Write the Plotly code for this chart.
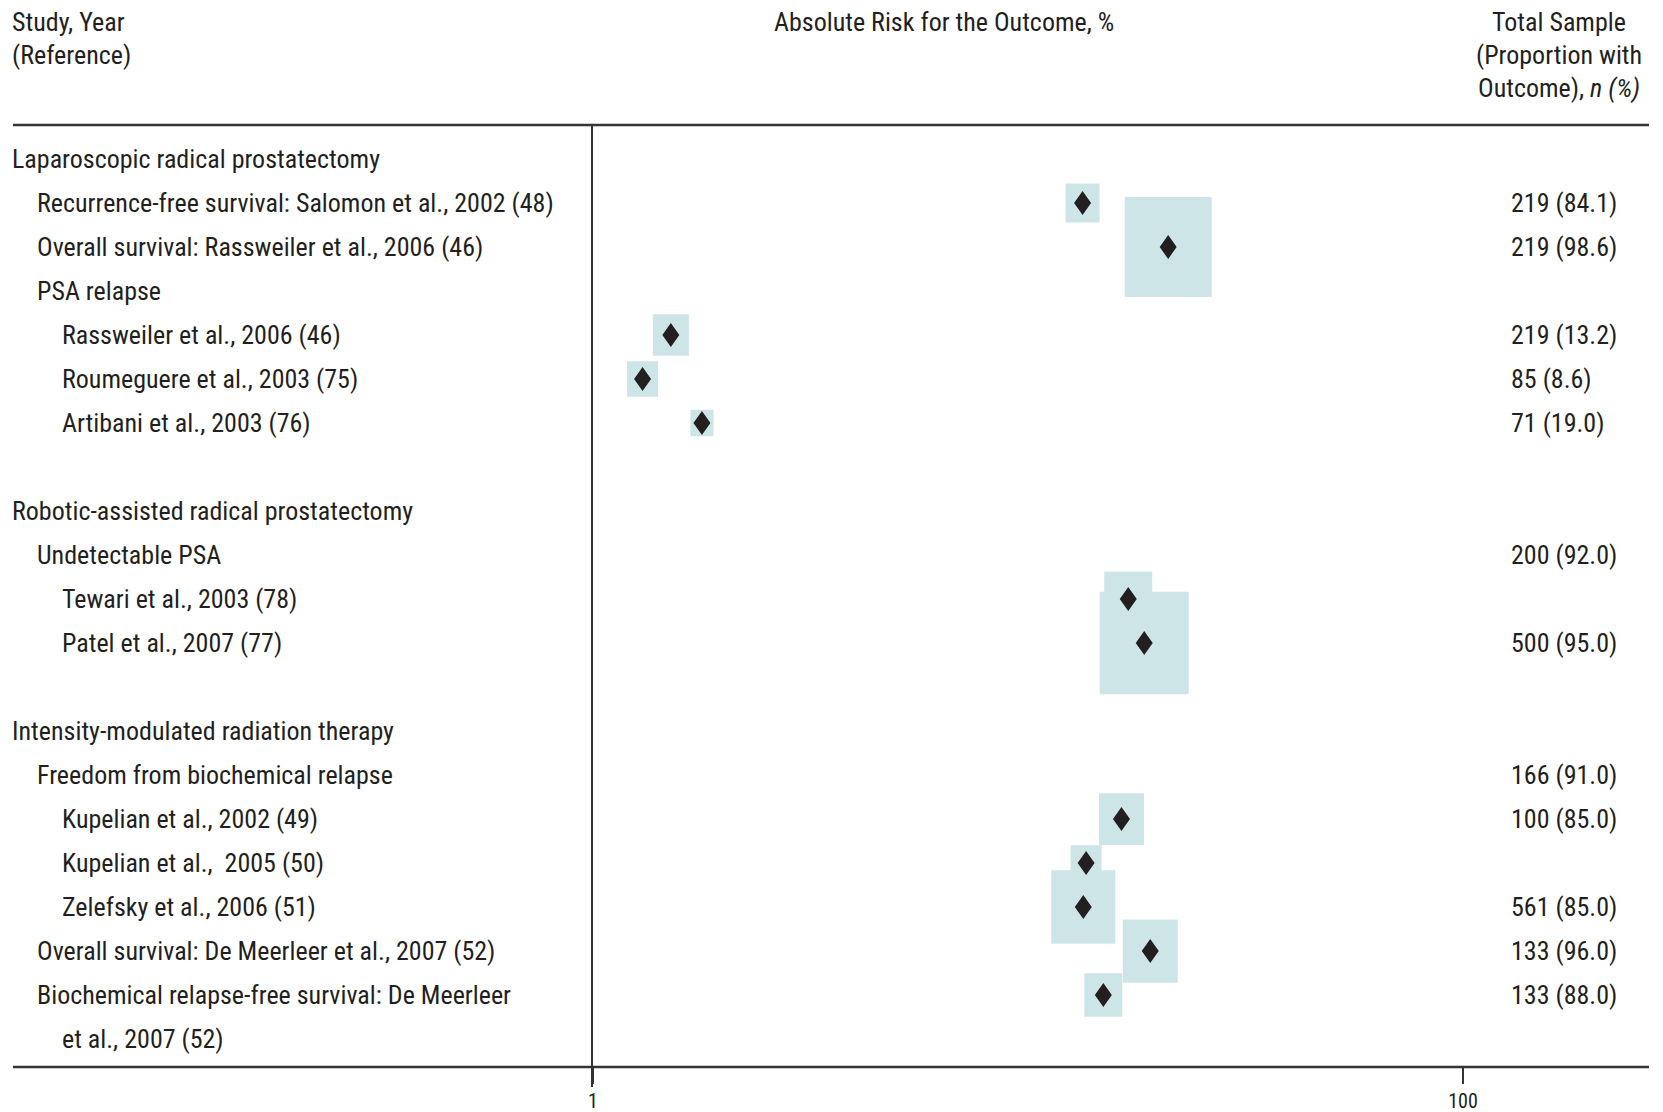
import math
import plotly.graph_objects as go

# ---- table rows (top to bottom) ----
row_labels = [
    "Laparoscopic radical prostatectomy",
    "Recurrence-free survival: Salomon et al., 2002 (48)",
    "Overall survival: Rassweiler et al., 2006 (46)",
    "PSA relapse",
    "Rassweiler et al., 2006 (46)",
    "Roumeguere et al., 2003 (75)",
    "Artibani et al., 2003 (76)",
    "",
    "Robotic-assisted radical prostatectomy",
    "Undetectable PSA",
    "Tewari et al., 2003 (78)",
    "Patel et al., 2007 (77)",
    "",
    "Intensity-modulated radiation therapy",
    "Freedom from biochemical relapse",
    "Kupelian et al., 2002 (49)",
    "Kupelian et al.,  2005 (50)",
    "Zelefsky et al., 2006 (51)",
    "Overall survival: De Meerleer et al., 2007 (52)",
    "Biochemical relapse-free survival: De Meerleer",
    "et al., 2007 (52)",
]
row_level = [0, 1, 1, 1, 2, 2, 2, 0, 0, 1, 2, 2, 0, 0, 1, 2, 2, 2, 1, 1, 2]
sample_text = [
    "", "219 (84.1)", "219 (98.6)", "", "219 (13.2)", "85 (8.6)", "71 (19.0)",
    "", "", "200 (92.0)", "", "500 (95.0)",
    "", "", "166 (91.0)", "100 (85.0)", "", "561 (85.0)", "133 (96.0)", "133 (88.0)", "",
]

# ---- study estimates ----
study_rows = [1, 2, 4, 5, 6, 10, 11, 15, 16, 17, 18, 19]
abs_risk = [13.35, 21.0, 1.51, 1.30, 1.78, 17.0, 18.5, 16.4, 13.6, 13.4, 19.1, 14.9]
box_weight = [34, 87, 36, 31, 23, 48, 89, 45, 31, 64, 55, 38]

x_ticks = [1, 100]
x_tick_text = ["1", "100"]

# ---- geometry ----
W, H = 1663, 1112
ML, MR, MT, MB = 13, 14, 125, 25
plot_w = W - ML - MR
plot_h = H - MT - MB
x_left_px = 593          # where x = 1 sits
decade_px = 435.0
row_px = 44.0
row0_px = 159.0
x_dom0 = (x_left_px - ML) / plot_w
x_max = (W - MR - x_left_px) / decade_px
y_top = (MT - row0_px) / row_px
y_bot = (H - MB - row0_px) / row_px

def paper_y(px):
    return (H - MB - px) / plot_h

def paper_x(px):
    return (px - ML) / plot_w

ink = "#231f20"
box_fill = "#cde5e7"
font_family = "Liberation Sans Narrow, Arial Narrow, Roboto Condensed, DejaVu Sans Condensed, sans-serif"
fs = 26

fig = go.Figure()

# weight boxes
for r, v, w in zip(study_rows, abs_risk, box_weight):
    hw = w / 2 / decade_px
    hh = w * 1.15 / 2 / row_px
    lo, hi = v * 10 ** (-hw), v * 10 ** hw
    fig.add_trace(go.Scatter(
        x=[lo, hi, hi, lo, lo], y=[r - hh, r - hh, r + hh, r + hh, r - hh],
        mode="lines", fill="toself", fillcolor=box_fill,
        line=dict(width=0, color=box_fill), hoverinfo="skip", showlegend=False,
    ))

# point estimates as diamonds
dx = 8.5 / decade_px
dy = 12 / row_px
dxs, dys = [], []
for r, v in zip(study_rows, abs_risk):
    dxs += [v * 10 ** (-dx), v, v * 10 ** dx, v, v * 10 ** (-dx), None]
    dys += [r, r - dy, r, r + dy, r, None]
fig.add_trace(go.Scatter(
    x=dxs, y=dys, mode="lines", fill="toself", fillcolor=ink,
    line=dict(width=0, color=ink), hoverinfo="skip", showlegend=False,
))

annotations = []
indent_px = [10, 35, 60]
for i, (lab, lev) in enumerate(zip(row_labels, row_level)):
    if lab:
        annotations.append(dict(
            text=lab, x=paper_x(indent_px[lev]), xref="paper", y=i, yref="y",
            xanchor="left", yanchor="middle", showarrow=False,
            font=dict(family=font_family, size=fs, color=ink),
        ))
for i, t in enumerate(sample_text):
    if t:
        annotations.append(dict(
            text=t, x=paper_x(1509), xref="paper", y=i, yref="y",
            xanchor="left", yanchor="middle", showarrow=False,
            font=dict(family=font_family, size=fs, color=ink),
        ))

headers = [
    ("Study, Year", 10, 22, "left"),
    ("(Reference)", 10, 55, "left"),
    ("Absolute Risk for the Outcome, %", 944, 22, "center"),
    ("Total Sample", 1559, 22, "center"),
    ("(Proportion with", 1559, 55, "center"),
    ("Outcome), <i>n (%)</i>", 1559, 88, "center"),
]
for t, px, py, anc in headers:
    annotations.append(dict(
        text=t, x=paper_x(px), xref="paper", y=paper_y(py), yref="paper",
        xanchor=anc, yanchor="middle", showarrow=False,
        font=dict(family=font_family, size=fs, color=ink),
    ))

shapes = [
    dict(type="line", xref="paper", yref="paper", x0=0, x1=1, y0=1, y1=1,
         line=dict(color="#333333", width=2.5)),
    dict(type="line", xref="paper", yref="paper", x0=0, x1=1,
         y0=paper_y(1067), y1=paper_y(1067), line=dict(color="#333333", width=2.5)),
]

fig.update_layout(
    width=W, height=H, autosize=False,
    margin=dict(l=ML, r=MR, t=MT, b=MB, pad=0, autoexpand=False),
    paper_bgcolor="white", plot_bgcolor="white",
    annotations=annotations, shapes=shapes,
    xaxis=dict(
        type="log", domain=[x_dom0, 1], range=[0, x_max],
        tickvals=x_ticks, ticktext=x_tick_text, ticks="outside", ticklen=16,
        tickwidth=1.5, tickcolor="#333333", showline=False, showgrid=False,
        zeroline=False, anchor="free", position=paper_y(1067), automargin=False,
        tickfont=dict(family=font_family, size=20, color=ink),
    ),
    yaxis=dict(
        range=[y_bot, y_top], domain=[0, 1], anchor="x", automargin=False,
        showline=True, linecolor="#333333", linewidth=1.5,
        showticklabels=False, ticks="", showgrid=False, zeroline=False,
    ),
)

fig.write_html("out.html")
